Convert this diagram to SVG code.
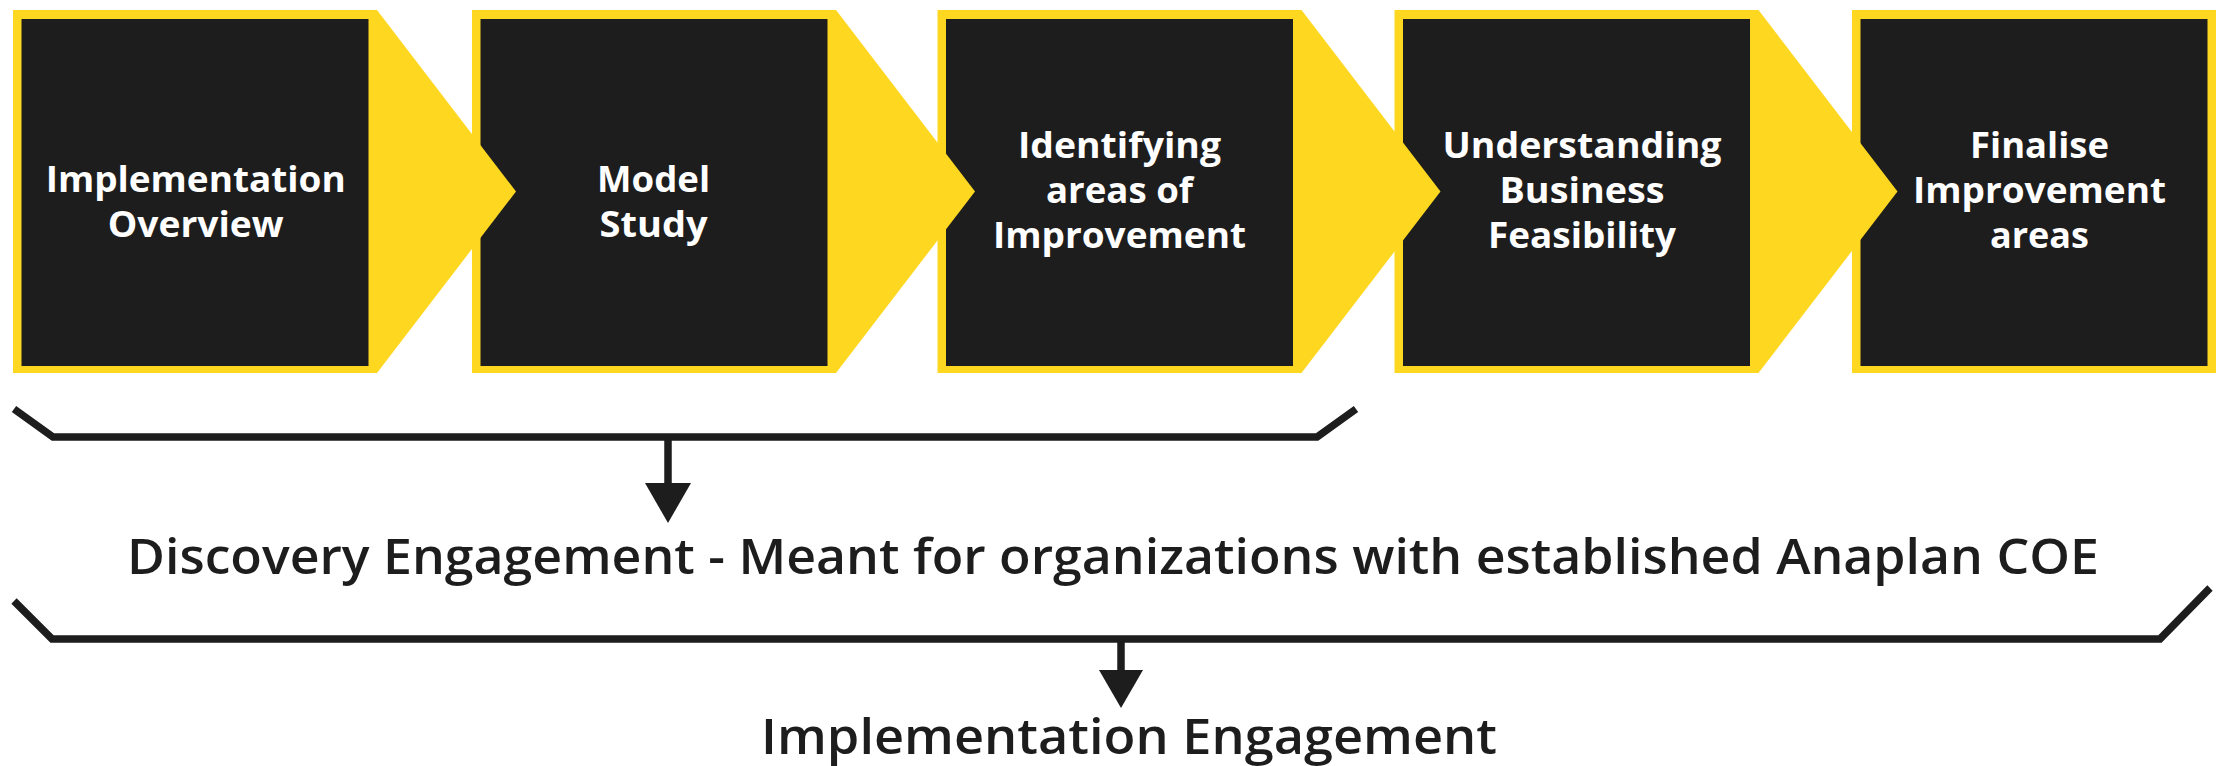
<svg xmlns="http://www.w3.org/2000/svg" width="2227" height="766" viewBox="0 0 2227 766">
<style>
.y{fill:#FED721}
.b{fill:#1D1D1D}
.t{font-family:"Open Sans","Liberation Sans",sans-serif;font-weight:700;font-size:36px;fill:#FFFFFF;text-anchor:middle}
.lbl{font-family:"Open Sans","Liberation Sans",sans-serif;font-weight:600;font-size:48px;fill:#1D1D1D;text-anchor:middle}
.ln{fill:none;stroke:#1D1D1D;stroke-width:7.5;stroke-linejoin:miter;stroke-linecap:butt}
.ah{fill:#1D1D1D}
</style>
<rect width="2227" height="766" fill="#FFFFFF"/>
<g id="node5">
<rect class="y" x="1852" y="10" width="364" height="363"/>
<rect class="b" x="1860.5" y="19" width="347" height="347"/>
<text class="t" x="2039.5" y="158" textLength="139" lengthAdjust="spacingAndGlyphs">Finalise</text>
<text class="t" x="2039.5" y="203" textLength="253" lengthAdjust="spacingAndGlyphs">Improvement</text>
<text class="t" x="2039.5" y="248" textLength="99" lengthAdjust="spacingAndGlyphs">areas</text>
</g>
<g id="node4">
<polygon class="y" points="1394.5,10 1758.5,10 1897.5,191.5 1758.5,373 1394.5,373"/>
<rect class="b" x="1403" y="19" width="347" height="347"/>
<text class="t" x="1582" y="158" textLength="279" lengthAdjust="spacingAndGlyphs">Understanding</text>
<text class="t" x="1582" y="203" textLength="165" lengthAdjust="spacingAndGlyphs">Business</text>
<text class="t" x="1582" y="248" textLength="188" lengthAdjust="spacingAndGlyphs">Feasibility</text>
</g>
<g id="node3">
<polygon class="y" points="937.5,10 1301.5,10 1440.5,191.5 1301.5,373 937.5,373"/>
<rect class="b" x="946" y="19" width="347" height="347"/>
<text class="t" x="1119.5" y="158" textLength="203" lengthAdjust="spacingAndGlyphs">Identifying</text>
<text class="t" x="1119.5" y="203" textLength="147" lengthAdjust="spacingAndGlyphs">areas of</text>
<text class="t" x="1119.5" y="248" textLength="253" lengthAdjust="spacingAndGlyphs">Improvement</text>
</g>
<g id="node2">
<polygon class="y" points="472,10 836,10 975,191.5 836,373 472,373"/>
<rect class="b" x="480.5" y="19" width="347" height="347"/>
<text class="t" x="653.6" y="192" textLength="113" lengthAdjust="spacingAndGlyphs">Model</text>
<text class="t" x="653.6" y="237" textLength="108" lengthAdjust="spacingAndGlyphs">Study</text>
</g>
<g id="node1">
<polygon class="y" points="13,10 377,10 516,191.5 377,373 13,373"/>
<rect class="b" x="21.5" y="19" width="347" height="347"/>
<text class="t" x="195.7" y="192" textLength="300" lengthAdjust="spacingAndGlyphs">Implementation</text>
<text class="t" x="195.7" y="237" textLength="176" lengthAdjust="spacingAndGlyphs">Overview</text>
</g>
<g id="connectors">
<polyline class="ln" points="14,409 53,437 1317,437 1356,409"/>
<line class="ln" x1="668" y1="437" x2="668" y2="486"/>
<polygon class="ah" points="645,483 691,483 668,523"/>
<polyline class="ln" points="14,601 52,639 2160,639 2210,588"/>
<line class="ln" x1="1121" y1="639" x2="1121" y2="672"/>
<polygon class="ah" points="1099,670 1143,670 1121,708"/>
</g>
<g id="label-discovery">
<text class="lbl" x="1113" y="574" textLength="1972" lengthAdjust="spacingAndGlyphs">Discovery Engagement - Meant for organizations with established Anaplan COE</text>
</g>
<g id="label-implementation">
<text class="lbl" x="1129" y="754" textLength="736" lengthAdjust="spacingAndGlyphs">Implementation Engagement</text>
</g>
</svg>
